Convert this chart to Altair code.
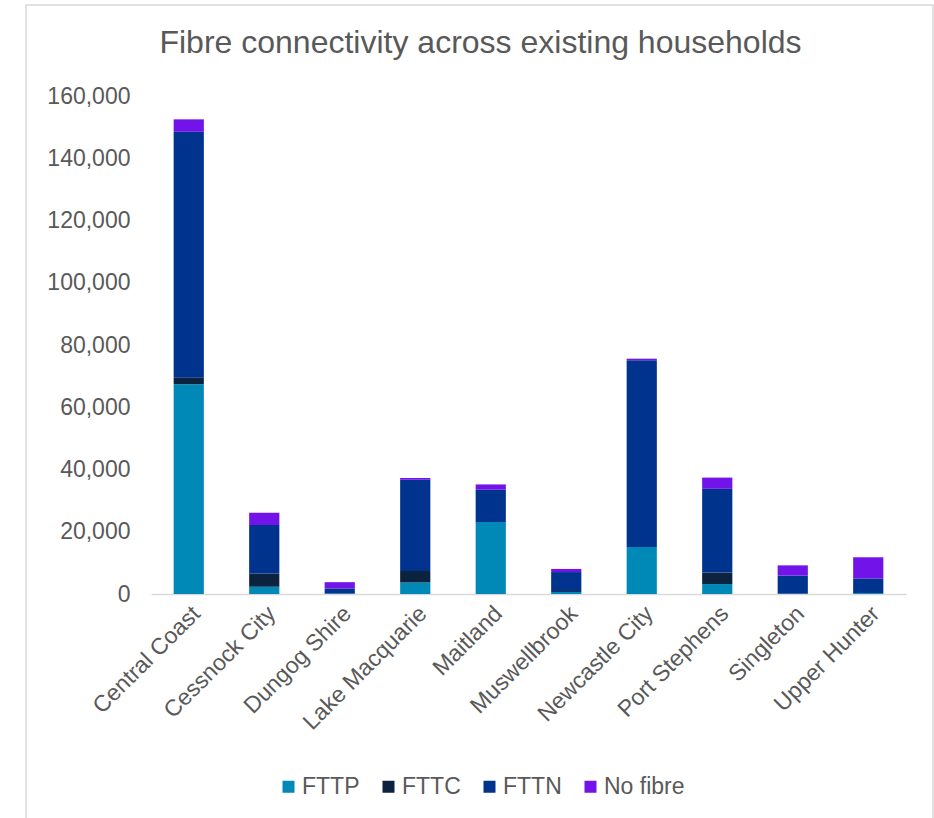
import altair as alt
import pandas as pd

categories = ["Central Coast", "Cessnock City", "Dungog Shire", "Lake Macquarie", "Maitland",
              "Muswellbrook", "Newcastle City", "Port Stephens", "Singleton", "Upper Hunter"]
series = ["FTTP", "FTTC", "FTTN", "No fibre"]
fttp = [67400, 2300, 150, 3700, 23100, 650, 15100, 3200, 100, 300]
fttc = [2100, 4300, 0, 3700, 0, 300, 0, 3700, 0, 0]
fttn = [79000, 15600, 1650, 29300, 10400, 6100, 60000, 26900, 5800, 4700]
nofibre = [4000, 3900, 2000, 600, 1700, 1000, 500, 3600, 3300, 6800]
colors = ["#0089B7", "#0C2340", "#00338D", "#7213EA"]
y_ticks = [0, 20000, 40000, 60000, 80000, 100000, 120000, 140000, 160000]

rows = []
for s_i, (s, vals) in enumerate(zip(series, [fttp, fttc, fttn, nofibre])):
    for c, v in zip(categories, vals):
        rows.append({"Area": c, "Type": s, "Households": v, "order": s_i})
df = pd.DataFrame(rows)

FONT = "Liberation Sans"
GREY = "#595959"

bars = alt.Chart(df).mark_bar().encode(
    x=alt.X("Area:N", sort=categories,
            scale=alt.Scale(paddingInner=0.6, paddingOuter=0.3),
            axis=alt.Axis(title=None, labelAngle=-45, labelAlign="right", labelBaseline="top",
                          labelFontSize=23, labelColor=GREY, labelFont=FONT, ticks=False,
                          tickSize=0, labelPadding=8, domainColor="#d9d9d9", domainWidth=1.5)),
    y=alt.Y("Households:Q", stack="zero",
            scale=alt.Scale(domain=[0, 160000], nice=False),
            axis=alt.Axis(title=None, values=y_ticks, format=",.0f", grid=False, domain=False,
                          ticks=False, tickSize=0, labelPadding=21, labelFontSize=23,
                          labelColor=GREY, labelFont=FONT)),
    color=alt.Color("Type:N", sort=series,
                    scale=alt.Scale(domain=series, range=colors),
                    legend=alt.Legend(title=None, orient="none", direction="horizontal",
                                      legendX=126, legendY=679, symbolType="square",
                                      symbolSize=144, symbolStrokeWidth=0, labelFontSize=23,
                                      labelColor=GREY, labelFont=FONT, columnPadding=17,
                                      labelOffset=2)),
    order=alt.Order("order:Q", sort="ascending"),
)

frame = alt.Chart(alt.Data(values=[{}])).mark_rect(
    fill=None, stroke="#d9d9d9", strokeWidth=1.5, clip=False
).encode(x=alt.value(-125), x2=alt.value(782), y=alt.value(-91), y2=alt.value(760))

chart = alt.layer(frame, bars).properties(
    width=755, height=498,
    padding={"left": 151, "top": 96, "right": 28, "bottom": 224},
    autosize=alt.AutoSizeParams(type="none"),
    title=alt.TitleParams("Fibre connectivity across existing households", fontSize=32,
                          font=FONT, color=GREY, fontWeight="normal", anchor="middle",
                          frame="group", baseline="alphabetic", offset=0, dx=-48, dy=81),
).configure_view(stroke=None)

chart.save("out.html", embed_options={"renderer": "svg", "actions": False})
